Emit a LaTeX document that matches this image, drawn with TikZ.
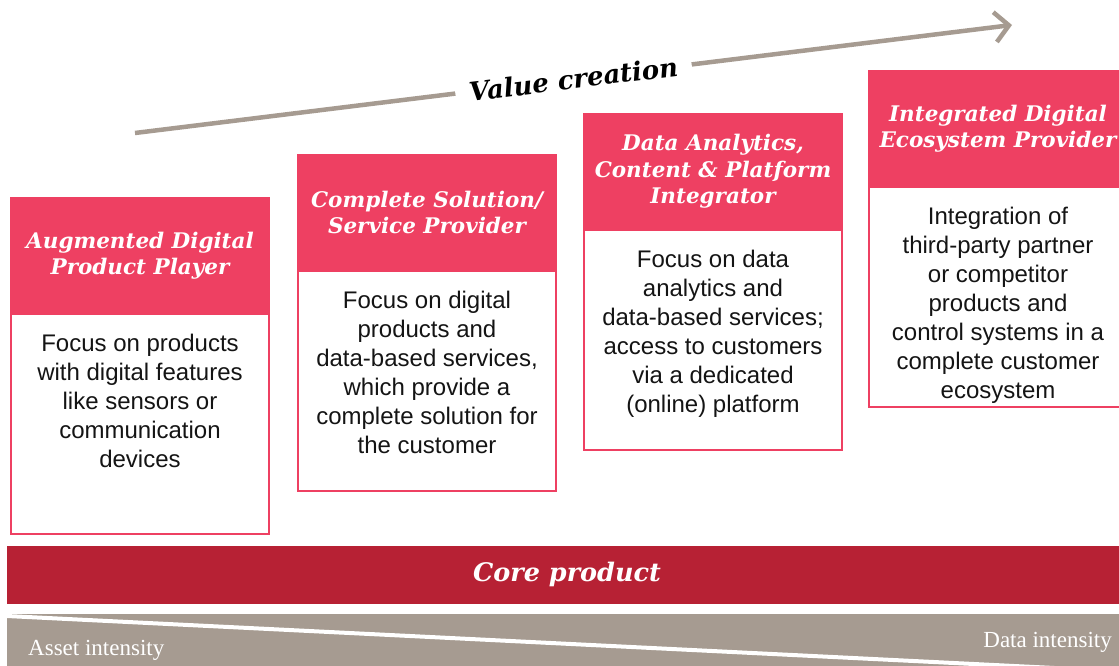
\documentclass[tikz,border=0pt]{standalone}
\usepackage{fontspec}
\setmainfont{Liberation Sans}
\newfontfamily\headfont{DejaVu Serif}
\newfontfamily\bandfont{Liberation Serif}
\usetikzlibrary{arrows.meta}
\usetikzlibrary{positioning}
\usepackage{xcolor}

\definecolor{pwcpink}{RGB}{238,64,98}
\definecolor{pwcred}{RGB}{183,33,52}
\definecolor{pwcgrey}{RGB}{166,155,145}

\tikzset{
  hdbox/.style={rectangle, fill=pwcpink, minimum width=260pt, minimum height=117pt,
    anchor=north west, inner sep=0pt, outer sep=0pt, text=white, align=center,
    font=\headfont\bfseries\itshape\fontsize{21.5}{26.5}\selectfont},
  bdbox/.style={rectangle, draw=pwcpink, line width=2pt, minimum width=258pt,
    minimum height=220pt, inner sep=0pt, outer sep=0pt},
  txt/.style={align=center, inner sep=0pt, text=black!92,
    font=\fontsize{24}{29}\selectfont},
  intens/.style={text=white, inner sep=0pt, font=\bandfont\fontsize{23}{26}\selectfont}
}

\begin{document}
\begin{tikzpicture}[x=1pt,y=-1pt]
      \useasboundingbox (0,0) rectangle (1119,666);

      % Value creation arrow
      \coordinate (vcA) at (135,133);
      \coordinate (vcB) at (1012,25);
      \draw[pwcgrey, line width=4.5pt, -{Straight Barb[length=14pt,width=30pt]}] (vcA) -- node[sloped, fill=white, inner xsep=14pt, inner ysep=3pt, text=black,
        font=\headfont\bfseries\itshape\fontsize{26}{30}\selectfont] (vclabel) {Value creation} (vcB);

      % Columns
      \node[hdbox] (hdA) at (10,197) {Augmented Digital\\Product Player};
      \node[bdbox, below=0pt of hdA] (bdA) {};
      \node[txt, below=20pt of hdA] (txA) {Focus on products\\with digital features\\like sensors or\\communication\\devices};

      \node[hdbox] (hdB) at (297,154) {Complete Solution/\\Service Provider};
      \node[bdbox, below=0pt of hdB] (bdB) {};
      \node[txt, below=20pt of hdB] (txB) {Focus on digital\\products and\\data-based services,\\which provide a\\complete solution for\\the customer};

      \node[hdbox] (hdC) at (583,113) {Data Analytics,\\Content \& Platform\\Integrator};
      \node[bdbox, below=0pt of hdC] (bdC) {};
      \node[txt, below=20pt of hdC] (txC) {Focus on data\\analytics and\\data-based services;\\access to customers\\via a dedicated\\(online) platform};

      \node[hdbox] (hdD) at (868,70) {Integrated Digital\\Ecosystem Provider};
      \node[bdbox, below=0pt of hdD] (bdD) {};
      \node[txt, below=20pt of hdD] (txD) {Integration of\\third-party partner\\or competitor\\products and\\control systems in a\\complete customer\\ecosystem};

      % Core product
      \node[rectangle, fill=pwcred, anchor=north west, minimum width=1120pt, minimum height=58pt, inner sep=0pt] (core) at (7,546) {};
      \node[text=white, font=\headfont\bfseries\itshape\fontsize{25.5}{30}\selectfont] (coretxt) at (567,574) {Core product};

      % Intensity band
      \fill[pwcgrey] (7,614) rectangle (1125,670);
      \draw[white, line width=4pt] (7,616) -- (1125,671.5);
      \node[intens, anchor=base west] (asset) at (28,655) {Asset intensity};
      \node[intens, anchor=base east] (data) at (1112,647) {Data intensity};
  \end{tikzpicture}
\end{document}
